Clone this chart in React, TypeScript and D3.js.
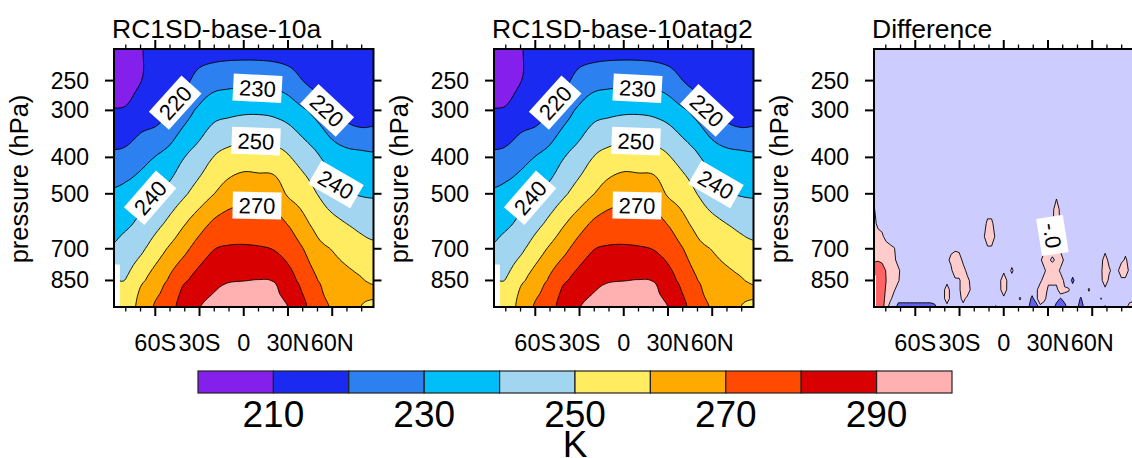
import React, { useRef, useEffect } from "react";
import * as d3 from "d3";

const width = 1132;
const height = 458;
const font = "Liberation Sans, Arial, Helvetica, sans-serif";

// grid (lat in degrees, pressure in hPa)
const lats = [-88, -80, -70, -60, -50, -40, -30, -20, -10, 0, 10, 20, 30, 40, 50, 60, 70, 80, 88];
const levels = [206, 250, 300, 400, 500, 600, 700, 850, 925, 1000];

// zonal mean temperature (K), one row per level, null = below the surface
const t206 = [205, 206, 209.5, 212, 213, 214.5, 216, 216.5, 217, 217, 217, 216.5, 215.5, 214.5, 213, 212, 211, 211, 211.5];
const t250 = [206.5, 207.5, 209.8, 213, 215, 218, 223.5, 226.3, 227.2, 227.8, 227.6, 227.1, 225.1, 220, 216.5, 215, 213, 211.5, 212];
const t300 = [210.5, 211, 214.6, 215.5, 220.1, 226, 232, 236.6, 237.8, 238.6, 238.7, 238, 235.8, 231.4, 226.7, 220.8, 216.4, 214, 215];
const t400 = [221.8, 222.8, 226.4, 230.3, 233.6, 240.05, 244.5, 250.4, 253.3, 255, 254.7, 253.9, 250.9, 245.9, 241.2, 235.5, 233, 232.3, 231.6];
const t500 = [231.4, 232.9, 235.6, 238.7, 243.3, 248.9, 254.5, 260, 264.5, 266.4, 266, 265.9, 258.9, 255.2, 249.8, 244, 240.5, 239.3, 238.9];
const t600 = [238, 238.5, 242.1, 246.8, 252.7, 259.5, 265.7, 271.8, 274.5, 274.8, 274.5, 273.9, 269.5, 262.8, 256.9, 253, 249.9, 247.3, 246.1];
const t700 = [241, 243.7, 248, 254.8, 261.5, 267.8, 274.7, 279.8, 281, 281.2, 280.8, 279.7, 276.1, 270.3, 262.8, 259.6, 256.3, 253.5, 252];
const t850 = [null, 250.3, 257.8, 264.5, 271.4, 278.7, 283.7, 287.4, 289.3, 289.8, 290.2, 289.6, 283.8, 277.1, 270.2, 264.9, 262.5, 260.5, 258.8];
const t925 = [null, 253, 261.5, 268.4, 274, 283, 287, 290.4, 292, 292.5, 293, 292, 286.8, 280, 272.5, 267, 263.5, 261.5, 261];
const t1000 = [null, 255, 263, 271, 276, 286, 289.8, 293, 294.5, 295, 295.5, 294, 290, 282.5, 274, 269, 263, 259.8, 258];

const tempBase = [t206, t250, t300, t400, t500, t600, t700, t850, t925, t1000];
// the tagged run looks the same at this resolution
const tempAtag = tempBase;

const contourLevels = [210, 220, 230, 240, 250, 260, 270, 280, 290];
const fillColors = ["#8520ec", "#1a2af0", "#2c80f0", "#00bef8", "#a2d6f0", "#ffec60", "#ffaa00", "#ff4a00", "#d80000", "#ffb0b0"];
const barLabels = [210, 230, 250, 270, 290];

const tempLabels = [
  { text: "220", lat: -46.5, p: 286, angle: -48 },
  { text: "230", lat: 9.3, p: 262, angle: 3 },
  { text: "220", lat: 56.5, p: 300, angle: 43 },
  { text: "250", lat: 8.3, p: 362, angle: 2 },
  { text: "240", lat: -63.5, p: 512, angle: -49 },
  { text: "240", lat: 62.5, p: 472, angle: 30 },
  { text: "270", lat: 9, p: 537, angle: 1 },
];

// difference: zero everywhere except these points [lat, p, K]
const diffLats = d3.range(-88, 88.01, 2.75);
const diffLevels = [206, 250, 300, 350, 400, 450, 500, 550, 600, 650, 700, 750, 800, 850, 900, 950, 1000];
const diffPoints = [
  // warm patch along the south pole edge
  [-88, 550, 0.12], [-88, 600, 0.22], [-88, 650, 0.35], [-85.25, 650, 0.25], [-82.5, 650, 0.15],
  [-88, 700, 0.4], [-85.25, 700, 0.35], [-82.5, 700, 0.3], [-79.75, 700, 0.25], [-77, 700, 0.15],
  [-88, 750, 0.45], [-85.25, 750, 0.45], [-82.5, 750, 0.35], [-79.75, 750, 0.3], [-77, 750, 0.25], [-74.25, 750, 0.15],
  [-88, 800, 0.7], [-85.25, 800, 0.9], [-82.5, 800, 0.85], [-79.75, 800, 0.45], [-77, 800, 0.3], [-74.25, 800, 0.25], [-71.5, 800, 0.15],
  [-85.25, 850, 0.9], [-82.5, 850, 0.85], [-79.75, 850, 0.5], [-77, 850, 0.3], [-74.25, 850, 0.2], [-71.5, 850, 0.12],
  [-85.25, 900, 0.9], [-82.5, 900, 0.85], [-79.75, 900, 0.4], [-77, 900, 0.2], [-74.25, 900, 0.12],
  [-85.25, 950, 0.9], [-82.5, 950, 0.8], [-79.75, 950, 0.3], [-77, 950, 0.15],
  [-85.25, 1000, 0.9], [-82.5, 1000, 0.7], [-79.75, 1000, 0.2],
  [-74.25, 700, 0.11],
  // scattered warm spots
  [-11, 600, 0.15], [-8.25, 600, 0.15], [-11, 650, 0.45], [-8.25, 650, 0.45],
  [-35.75, 750, 0.2], [-33, 750, 0.45], [-30.25, 750, 0.3], [-33, 800, 0.4], [-30.25, 800, 0.45], [-27.5, 800, 0.25],
  [-27.5, 850, 0.45], [-24.75, 850, 0.2], [-27.5, 900, 0.45], [-24.75, 900, 0.35], [-27.5, 950, 0.2],
  [-38.5, 900, 0.25], [-38.5, 950, 0.25],
  [0, 850, 0.4], [0, 900, 0.35], [5.5, 800, 0.14], [11, 950, 0.12],
  // spindles around 30N
  [35.75, 550, 0.3], [35.75, 600, 0.45], [33, 650, 0.4], [33, 700, 0.35], [30.25, 700, 0.2], [35.75, 700, 0.2],
  [27.5, 750, 0.35], [30.25, 750, 0.2], [35.75, 750, 0.2], [38.5, 750, 0.35],
  [30.25, 800, 0.35], [33, 800, 0.45], [35.75, 800, 0.35],
  [27.5, 850, 0.3], [30.25, 850, 0.2], [33, 850, 0.2], [35.75, 850, 0.2], [38.5, 850, 0.35],
  [24.75, 900, 0.35], [27.5, 900, 0.35], [38.5, 900, 0.3], [41.25, 900, 0.15],
  [24.75, 950, 0.35], [27.5, 950, 0.15],
  [44, 900, 0.12], [57.75, 900, 0.12], [68.75, 1000, 0.12],
  [68.75, 750, 0.25], [68.75, 800, 0.45], [68.75, 850, 0.35], [71.5, 800, 0.15],
  [79.75, 800, 0.35], [82.5, 800, 0.35], [82.5, 750, 0.15], [85.25, 1000, 0.2], [88, 1000, 0.3],
  // cold spots near the surface
  [19.25, 1000, -0.4], [19.25, 950, -0.15], [22, 1000, -0.2],
  [35.75, 1000, -0.2], [38.5, 1000, -0.5], [41.25, 1000, -0.2], [38.5, 950, -0.12],
  [52.25, 1000, -0.3], [52.25, 950, -0.12], [46.75, 850, -0.15], [-5.5, 1000, -0.12],
  [-71.5, 1000, -0.2], [-68.75, 1000, -0.2], [-66, 1000, -0.2], [-63.25, 1000, -0.2], [-60.5, 1000, -0.2],
  [-57.75, 1000, -0.2], [-55, 1000, -0.2], [-52.25, 1000, -0.2], [-49.5, 1000, -0.2], [-46.75, 1000, -0.15],
  [66, 950, -0.11], [71.5, 1000, -0.11],
];
// [lat, p] of the difference grid that is below the surface
const diffMissing = [[-88, 850], [-88, 900], [-88, 950], [-88, 1000]];
const diffThresholds = [-0.1, 0.1, 0.5];
const diffColors = ["#6262f4", "#ccccff", "#ffcccc", "#ff6464"];
const diffLabels = [{ text: "-.0", lat: 33, p: 645, angle: 81 }];

const yTicks = [250, 300, 400, 500, 700, 850];
const xMajor = [-60, -30, 0, 30, 60];
const xMinor = [-80, -70, -50, -40, -20, -10, 10, 20, 40, 50, 70, 80];
const xTickText = (d) => (d === 0 ? "0" : Math.abs(d) + (d < 0 ? "S" : "N"));

const panels = [
  { title: "RC1SD-base-10a", ox: 0 },
  { title: "RC1SD-base-10atag2", ox: 380 },
  { title: "Difference", ox: 760 },
];

function lerpIndex(arr, f) {
  const i = Math.max(0, Math.min(arr.length - 2, Math.floor(f)));
  return arr[i] + (arr[i + 1] - arr[i]) * (f - i);
}

function cr(p0, p1, p2, p3, t) {
  return 0.5 * (2 * p1 + (p2 - p0) * t + (2 * p0 - 5 * p1 + 4 * p2 - p3) * t * t + (3 * p1 - p0 - 3 * p2 + p3) * t * t * t);
}

// smooth the coarse grid so the filled contours are not jagged
function upsample(grid, f) {
  const ny = grid.length;
  const nx = grid[0].length;
  const NX = (nx - 1) * f + 1;
  const NY = (ny - 1) * f + 1;
  const cl = (k, n) => Math.max(0, Math.min(n - 1, k));
  const rows = grid.map((row) => {
    const out = [];
    for (let I = 0; I < NX; I++) {
      const u = I / f;
      const i = Math.min(Math.floor(u), nx - 2);
      out.push(cr(row[cl(i - 1, nx)], row[cl(i, nx)], row[cl(i + 1, nx)], row[cl(i + 2, nx)], u - i));
    }
    return out;
  });
  const vals = new Array(NX * NY);
  for (let J = 0; J < NY; J++) {
    const v = J / f;
    const j = Math.min(Math.floor(v), ny - 2);
    for (let I = 0; I < NX; I++) {
      vals[J * NX + I] = cr(rows[cl(j - 1, ny)][I], rows[cl(j, ny)][I], rows[cl(j + 1, ny)][I], rows[cl(j + 2, ny)][I], v - j);
    }
  }
  return { vals, NX, NY };
}

function fillNulls(grid) {
  return grid.map((row) =>
    row.map((v, i) => {
      if (v !== null) return v;
      for (let k = 1; k < row.length; k++) {
        if (row[i + k] != null) return row[i + k];
        if (row[i - k] != null) return row[i - k];
      }
      return 0;
    })
  );
}

const App = () => {
  const d3Container = useRef(null);

  useEffect(() => {
    if (!d3Container.current) return;
    const svg = d3.select(d3Container.current);
    svg.selectAll("*").remove();

    // difference grid built from the sparse points
    const nearLat = (la) => Math.round((la + 88) / 2.75);
    const nearLev = (p) => d3.minIndex(diffLevels, (l) => Math.abs(l - p));
    const diffGrid = diffLevels.map(() => diffLats.map(() => 0));
    diffPoints.forEach(([la, p, v]) => {
      diffGrid[nearLev(p)][nearLat(la)] = v;
    });
    diffMissing.forEach(([la, p]) => {
      diffGrid[nearLev(p)][nearLat(la)] = null;
    });

    panels.forEach((panel, k) => {
      const ox = panel.ox;
      const x = d3.scaleLinear().domain([-88, 88]).range([ox + 114, ox + 373.5]);
      const y = d3.scaleLog().domain([206, 1000]).range([49, 307]);
      const g = svg.append("g");

      const clipId = "clip" + k;
      g.append("clipPath")
        .attr("id", clipId)
        .append("rect")
        .attr("x", x(-88))
        .attr("y", y(206))
        .attr("width", x(88) - x(-88))
        .attr("height", y(1000) - y(206));

      const plot = g.append("g").attr("clip-path", `url(#${clipId})`);

      const isDiff = k === 2;
      const grid = isDiff ? diffGrid : k === 0 ? tempBase : tempAtag;
      const gLats = isDiff ? diffLats : lats;
      const gLevels = isDiff ? diffLevels : levels;
      const factor = isDiff ? 1 : 6;
      const thresholds = isDiff ? diffThresholds : contourLevels;
      const colors = isDiff ? diffColors : fillColors;

      const { vals, NX, NY } = upsample(fillNulls(grid), factor);
      const logLev = gLevels.map(Math.log);
      const proj = d3.geoTransform({
        point: function (px, py) {
          const fi = Math.max(0, Math.min(NX - 1, px - 0.5)) / factor;
          const fj = Math.max(0, Math.min(NY - 1, py - 0.5)) / factor;
          this.stream.point(x(lerpIndex(gLats, fi)), y(Math.exp(lerpIndex(logLev, fj))));
        },
      });
      const path = d3.geoPath(proj);
      const contours = d3.contours().size([NX, NY]).thresholds(thresholds)(vals);

      plot
        .append("rect")
        .attr("x", x(-88))
        .attr("y", y(206))
        .attr("width", x(88) - x(-88))
        .attr("height", y(1000) - y(206))
        .attr("fill", colors[0]);

      plot
        .selectAll(".fill")
        .data(contours)
        .join("path")
        .attr("d", path)
        .attr("fill", (d, i) => colors[i + 1]);

      plot
        .selectAll(".line")
        .data(contours)
        .join("path")
        .attr("d", path)
        .attr("fill", "none")
        .attr("stroke", "#000")
        .attr("stroke-width", 0.9);

      // below-surface cells stay white
      grid.forEach((row, j) => {
        row.forEach((v, i) => {
          if (v !== null) return;
          const xa = i === 0 ? -88 : (gLats[i - 1] + gLats[i]) / 2;
          const xb = i === gLats.length - 1 ? 88 : (gLats[i] + gLats[i + 1]) / 2;
          const pa = j === 0 ? 206 : Math.sqrt(gLevels[j - 1] * gLevels[j]);
          const pb = j === gLevels.length - 1 ? 1000 : Math.sqrt(gLevels[j] * gLevels[j + 1]);
          plot
            .append("rect")
            .attr("x", x(xa))
            .attr("y", y(pa))
            .attr("width", x(xb) - x(xa))
            .attr("height", y(pb) - y(pa) + 1)
            .attr("fill", "#fff");
        });
      });

      // contour labels, box sized to the text
      const labels = isDiff ? diffLabels : tempLabels;
      labels.forEach((lb) => {
        const lg = plot
          .append("g")
          .attr("transform", `translate(${x(lb.lat)},${y(lb.p)}) rotate(${lb.angle})`);
        const box = lg.append("rect").attr("fill", "#fff");
        const txt = lg
          .append("text")
          .attr("text-anchor", "middle")
          .attr("y", 8)
          .attr("font-family", font)
          .attr("font-size", 22)
          .text(lb.text);
        const tw = txt.node().getComputedTextLength() || lb.text.length * 12;
        const w = tw + 12;
        box.attr("x", -w / 2).attr("y", -13.5).attr("width", w).attr("height", 27);
      });

      // frame
      g.append("rect")
        .attr("x", x(-88))
        .attr("y", y(206))
        .attr("width", x(88) - x(-88))
        .attr("height", y(1000) - y(206))
        .attr("fill", "none")
        .attr("stroke", "#000")
        .attr("stroke-width", 2);

      // ticks
      const tick = (x1, y1, x2, y2, w) =>
        g.append("line")
          .attr("x1", x1).attr("y1", y1).attr("x2", x2).attr("y2", y2)
          .attr("stroke", "#000").attr("stroke-width", w);

      yTicks.forEach((p) => {
        tick(x(-88) - 9, y(p), x(-88), y(p), 2);
        tick(x(88), y(p), x(88) + 8, y(p), 2);
        g.append("text")
          .attr("x", ox + 89)
          .attr("y", y(p) + 8)
          .attr("text-anchor", "end")
          .attr("font-family", font)
          .attr("font-size", 23)
          .text(p);
      });
      xMajor.forEach((la) => {
        tick(x(la), y(206) - 9, x(la), y(206), 2);
        tick(x(la), y(1000), x(la), y(1000) + 9, 2);
        g.append("text")
          .attr("x", x(la))
          .attr("y", 351)
          .attr("text-anchor", "middle")
          .attr("font-family", font)
          .attr("font-size", 23.5)
          .text(xTickText(la));
      });
      xMinor.forEach((la) => {
        tick(x(la), y(206) - 4.5, x(la), y(206), 1.3);
        tick(x(la), y(1000), x(la), y(1000) + 4.5, 1.3);
      });

      g.append("text")
        .attr("transform", `translate(${ox + 28},${179}) rotate(-90)`)
        .attr("text-anchor", "middle")
        .attr("font-family", font)
        .attr("font-size", 25.5)
        .text("pressure (hPa)");

      g.append("text")
        .attr("x", ox + 112)
        .attr("y", 38)
        .attr("font-family", font)
        .attr("font-size", 26.5)
        .text(panel.title);
    });

    // colour bar
    const cb = d3.scaleLinear().domain([200, 300]).range([198, 952]);
    const bar = svg.append("g");
    fillColors.forEach((c, i) => {
      bar.append("rect")
        .attr("x", cb(200 + i * 10))
        .attr("y", 371)
        .attr("width", cb(210) - cb(200))
        .attr("height", 22)
        .attr("fill", c)
        .attr("stroke", "#222")
        .attr("stroke-width", 1.2);
    });
    barLabels.forEach((v) => {
      bar.append("text")
        .attr("x", cb(v))
        .attr("y", 427)
        .attr("text-anchor", "middle")
        .attr("font-family", font)
        .attr("font-size", 37)
        .text(v);
    });
    bar.append("text")
      .attr("x", cb(250))
      .attr("y", 457)
      .attr("text-anchor", "middle")
      .attr("font-family", font)
      .attr("font-size", 37)
      .text("K");
  }, []);

  return (
    <svg
      ref={d3Container}
      width={width}
      height={height}
      style={{ position: "absolute", left: 0, top: 0, background: "#fff" }}
    />
  );
};

export default App;
